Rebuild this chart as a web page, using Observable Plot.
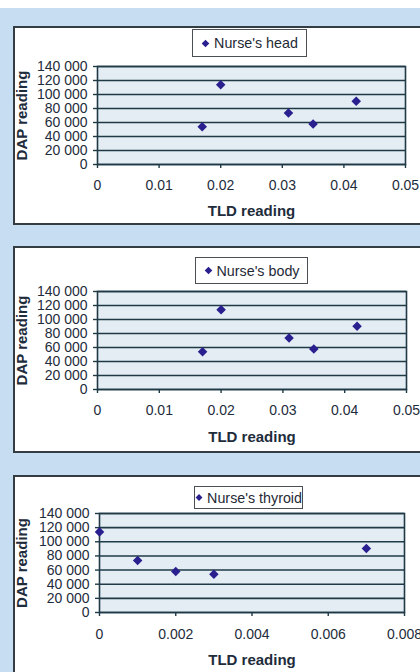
<!DOCTYPE html>
<html>
<head>
<meta charset="utf-8">
<script src="https://cdn.jsdelivr.net/npm/d3@7"></script>
<script src="https://cdn.jsdelivr.net/npm/@observablehq/plot@0.6"></script>
<style>
  html, body { margin: 0; padding: 0; background: #ffffff; }
  #page { position: relative; width: 420px; height: 672px; overflow: hidden; background: #ffffff; font-family: "Liberation Sans", Arial, sans-serif; }
  #blue { position: absolute; left: 0; top: 8px; width: 420px; height: 664px; background: #c7def2; }
  .panel { position: absolute; left: 13px; width: 420px; background: #ffffff; border-top: 2px solid #353d44; border-left: 2px solid #353d44; border-bottom: 2px solid #353d44; box-sizing: content-box; }
  .legend { position: absolute; box-sizing: border-box; border: 1.5px solid #4a4f55; background: #fff; color: #1f2a36; font-size: 14.3px; display: flex; align-items: center; justify-content: center; white-space: nowrap; }
  .legend svg { margin-right: 4px; }
  .chart { position: absolute; left: 0; }
</style>
</head>
<body>
<div id="page">
  <div id="blue"></div>
</div>
<script>
// ---- data ----
const dapValues   = [114000, 73500, 58000, 54000, 90500];
const tldHead     = [0.020, 0.031, 0.035, 0.017, 0.042];
const tldBody     = [0.020, 0.031, 0.035, 0.017, 0.042];
const tldThyroid  = [0.000, 0.001, 0.002, 0.003, 0.007];
const seriesNames = ["Nurse's head", "Nurse's body", "Nurse's thyroid"];
const yTicks      = [0, 20000, 40000, 60000, 80000, 100000, 120000, 140000];
const xTicksWide  = [0, 0.01, 0.02, 0.03, 0.04, 0.05];
const xTicksNarrow= [0, 0.002, 0.004, 0.006, 0.008];
const xLabel = "TLD reading";
const yLabel = "DAP reading";

// ---- style ----
const textColor = "#1e2c3b";
const gridColor = "#1f3a46";
const plotFill  = "#e3edf3";
const dotColor  = "#2a1f8f";

const yFmt = d => d3.format(",")(d).replace(/,/g, " ");
const xFmt = d => d === 0 ? "0" : String(d);

const panels = [
  { name: seriesNames[0], tld: tldHead, xTicks: xTicksWide,
    top: 26, innerH: 195, svgTop: 33, svgH: 162, mt: 5, mb: 59, ml: 82, mr: 15, w: 405,
    leg: {left: 177, top: 1, width: 115, height: 28}, titleDy: 47, tickPad: 12 },
  { name: seriesNames[1], tld: tldBody, xTicks: xTicksWide,
    top: 246, innerH: 203, svgTop: 38, svgH: 165, mt: 5, mb: 62, ml: 82, mr: 14, w: 405,
    leg: {left: 180, top: 9, width: 113, height: 27}, titleDy: 48, tickPad: 12 },
  { name: seriesNames[2], tld: tldThyroid, xTicks: xTicksNarrow,
    top: 475, innerH: 200, svgTop: 32, svgH: 163, mt: 4, mb: 60, ml: 84, mr: 16, w: 405,
    leg: {left: 179, top: 9, width: 109, height: 23}, titleDy: 48, tickPad: 13 }
];

const page = document.getElementById("page");

for (const p of panels) {
  const data = dapValues.map((v, i) => ({tld: p.tld[i], dap: v}));
  const xMax = p.xTicks[p.xTicks.length - 1];

  const panel = document.createElement("div");
  panel.className = "panel";
  panel.style.top = p.top + "px";
  panel.style.height = p.innerH + "px";
  page.appendChild(panel);

  // legend (HTML, above the chart)
  const leg = document.createElement("div");
  leg.className = "legend";
  Object.assign(leg.style, {left: p.leg.left + "px", top: p.leg.top + "px", width: p.leg.width + "px", height: p.leg.height + "px"});
  leg.innerHTML = `<svg width="9" height="9" viewBox="-4.5 -4.5 9 9"><path d="M0,-3.8L3.8,0L0,3.8L-3.8,0Z" fill="${dotColor}"/></svg><span>${p.name}</span>`;
  panel.appendChild(leg);

  const chart = Plot.plot({
    width: p.w,
    height: p.svgH,
    marginLeft: p.ml,
    marginRight: p.mr,
    marginTop: p.mt,
    marginBottom: p.mb,
    x: {domain: [0, xMax]},
    y: {domain: [0, 140000]},
    style: {fontFamily: "'Liberation Sans', Arial, sans-serif", fontSize: "14px", color: textColor, background: "transparent", overflow: "visible"},
    marks: [
      Plot.frame({fill: plotFill}),
      Plot.ruleY(yTicks, {stroke: gridColor, strokeWidth: 1.6}),
      Plot.frame({stroke: gridColor, strokeWidth: 1.6}),
      Plot.axisY({ticks: yTicks, tickSize: 4, tickPadding: 6, tickFormat: yFmt, label: null, stroke: gridColor, strokeWidth: 1.4}),
      Plot.axisX({ticks: p.xTicks, tickSize: 4, tickPadding: p.tickPad, tickFormat: xFmt, label: null, stroke: gridColor, strokeWidth: 1.4}),
      Plot.dot(data, {x: "tld", y: "dap", symbol: "diamond2", r: 4.3, fill: dotColor, stroke: "none"}),
      Plot.text([yLabel], {frameAnchor: "left", dx: -(p.ml - 7), rotate: -90, textAnchor: "middle", lineAnchor: "middle", fontWeight: "bold", fontSize: 15, fill: textColor}),
      Plot.text([xLabel], {frameAnchor: "bottom", dy: p.titleDy, textAnchor: "middle", lineAnchor: "middle", fontWeight: "bold", fontSize: 15, fill: textColor})
    ]
  });
  chart.classList.add("chart");
  chart.style.top = p.svgTop + "px";
  panel.appendChild(chart);
}
</script>
</body>
</html>
